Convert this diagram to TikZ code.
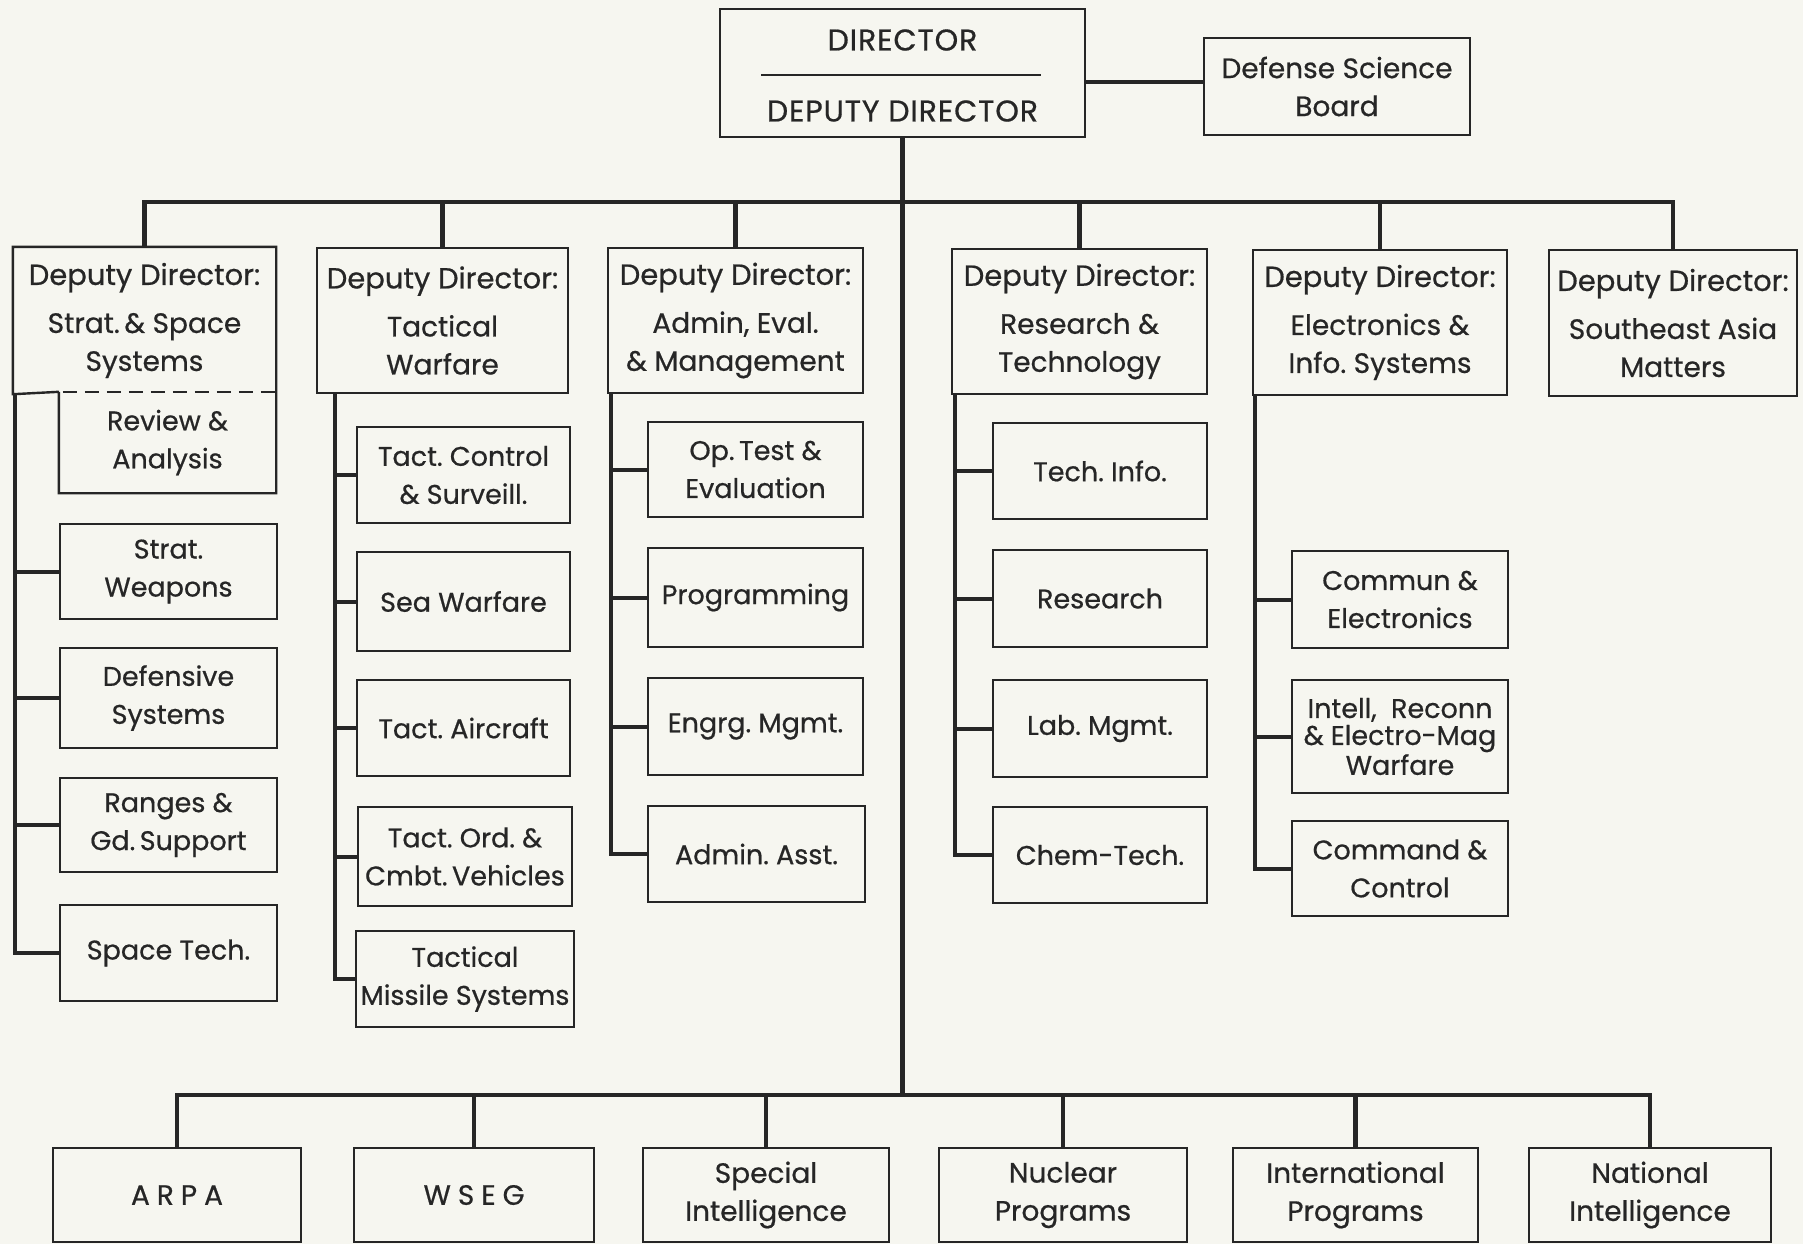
\documentclass[tikz,border=0pt]{standalone}
\usepackage{fontspec}
\setmainfont{Poppins}[FakeBold=0.6]
\definecolor{ink}{HTML}{262626}
\definecolor{paper}{HTML}{F6F6F0}
\newcommand\mkbox[7][]{\node[obox,#1,minimum width={(#5-#3)*0.5pt},minimum height={(#6-#4)*0.5pt}] (#2) at ({(#3+#5)/2},{(#4+#6)/2}) {#7};}
\newcommand\dd{{\fontsize{14.5}{19}\selectfont Deputy Director:}\\[5pt]}
\begin{document}
\begin{tikzpicture}[x=0.5pt,y=-0.5pt,
  boxline/.style={draw=ink,line width=1.2pt,line join=miter},
  obox/.style={boxline,rectangle,inner sep=0pt,align=center,text=ink,font=\fontsize{13.5}{19}\selectfont},
  top/.style={font=\fontsize{14}{19}\selectfont},
  bot/.style={font=\fontsize{14}{19}\selectfont},
  txt/.style={inner sep=0pt,text=ink},
  conn/.style={draw=ink,line width=2pt},
  bus/.style={draw=ink,line width=2.2pt}]
\fill[paper] (0,0) rectangle (1803,1244);
\useasboundingbox (0,0) rectangle (1803,1244);
% top level
\mkbox{dir}{720}{9}{1085}{137}{}
\node[txt,font=\fontsize{15}{18}\selectfont\addfontfeatures{LetterSpace=3}] (dirT) at (902.5,40) {DIRECTOR};
\node[txt,font=\fontsize{15}{18}\selectfont\addfontfeatures{LetterSpace=3}] (dirB) at (902.5,111) {DEPUTY DIRECTOR};
\draw[draw=ink,line width=1.1pt] (761,75) -- (1041,75);
\mkbox[top]{dsb}{1204}{38}{1470}{135}{Defense Science\\Board}
% deputy directors
\mkbox[top,draw=none]{dd1}{14}{248}{275}{393}{\dd Strat.\,\& Space\\Systems}
\mkbox[top]{dd2}{317}{248}{568}{393}{\dd Tactical\\Warfare}
\mkbox[top]{dd3}{608}{248}{863}{393}{\dd Admin, Eval.\\\& Management}
\mkbox[top]{dd4}{952}{249}{1207}{394}{\dd Research \&\\Technology}
\mkbox[top]{dd5}{1253}{250}{1507}{395}{\dd Electronics \&\\Info.\ Systems}
\mkbox[top]{dd6}{1549}{250}{1797}{396}{\dd Southeast Asia\\Matters}
% column 1
\mkbox[draw=none]{rev}{60}{393}{275}{492}{Review \&\\Analysis}
\draw[boxline] (rev.north west) -- (dd1.south west) -- (dd1.north west) -- (dd1.north east) -- (rev.south east) -- (rev.south west) -- (rev.north west);
\draw[boxline,dash pattern=on 7pt off 4pt] ([xshift=2pt]rev.north west) -- (rev.north east);
\mkbox{strat}{60}{524}{277}{619}{Strat.\\Weapons}
\mkbox{def}{60}{648}{277}{748}{Defensive\\Systems}
\mkbox{rng}{60}{778}{277}{872}{Ranges \&\\Gd.\,Support}
\mkbox{spc}{60}{905}{277}{1001}{Space Tech.}
% column 2
\mkbox{tcs}{357}{427}{570}{523}{Tact.\ Control\\\& Surveill.}
\mkbox{sea}{357}{552}{570}{651}{Sea Warfare}
\mkbox{tac}{357}{680}{570}{776}{Tact.\ Aircraft}
\mkbox{tord}{358}{807}{572}{906}{Tact.\ Ord.\ \&\\Cmbt.\,Vehicles}
\mkbox{tms}{356}{931}{574}{1027}{Tactical\\Missile Systems}
% column 3
\mkbox{opt}{648}{422}{863}{517}{Op.\,Test \&\\Evaluation}
\mkbox{prg}{648}{548}{863}{647}{Programming}
\mkbox{eng}{648}{678}{863}{775}{Engrg.\ Mgmt.}
\mkbox{adm}{648}{806}{865}{902}{Admin.\ Asst.}
% column 4
\mkbox{tin}{993}{423}{1207}{519}{Tech.\ Info.}
\mkbox{res}{993}{550}{1207}{647}{Research}
\mkbox{lab}{993}{680}{1207}{777}{Lab.\ Mgmt.}
\mkbox{chm}{993}{807}{1207}{903}{Chem-Tech.}
% column 5
\mkbox{com}{1292}{551}{1508}{648}{Commun \&\\Electronics}
\mkbox[font=\fontsize{13.5}{13.5}\selectfont]{itl}{1292}{680}{1508}{793}{Intell,\ \ Reconn\\\& Electro-Mag\\Warfare}
\mkbox{cmd}{1292}{821}{1508}{916}{Command \&\\Control}
% bottom row
\mkbox[font=\fontsize{14}{19}\selectfont\addfontfeatures{LetterSpace=25}]{arpa}{53}{1148}{301}{1242}{ARPA}
\mkbox[font=\fontsize{14}{19}\selectfont\addfontfeatures{LetterSpace=25}]{wseg}{354}{1148}{594}{1242}{WSEG}
\mkbox[bot]{spi}{643}{1148}{889}{1242}{Special\\Intelligence}
\mkbox[bot]{nuc}{939}{1148}{1187}{1242}{Nuclear\\Programs}
\mkbox[bot]{intp}{1233}{1148}{1478}{1242}{International\\Programs}
\mkbox[bot]{nat}{1529}{1148}{1771}{1242}{National\\Intelligence}
% connectors
\coordinate (tb) at (0,202);
\coordinate (bb) at (0,1095);
\coordinate (dsbc) at (0,82);
\draw[conn] (dir.east |- dsbc) -- (dsb.west |- dsbc);
\draw[bus] (dir.south) -- (dir.south |- bb);
\draw[bus] (dd1.north) -- (dd1.north |- tb) -- (dd6.north |- tb) -- (dd6.north);
\foreach \n in {dd2,dd3,dd4,dd5} \draw[bus] (\n.north) -- (\n.north |- tb);
\draw[bus] (arpa.north) -- (arpa.north |- bb) -- (nat.north |- bb) -- (nat.north);
\foreach \n in {wseg,spi,nuc,intp} \draw[bus] (\n.north) -- (\n.north |- bb);
\coordinate (v1) at ([xshift=1pt]dd1.south west);
\draw[conn] (v1) |- (spc.west);
\foreach \n in {strat,def,rng} \draw[conn] (v1 |- \n.west) -- (\n.west);
\coordinate (v2) at (335,393);
\draw[conn] (v2) |- (tms.west);
\foreach \n in {tcs,sea,tac,tord} \draw[conn] (v2 |- \n.west) -- (\n.west);
\coordinate (v3) at (611,393);
\draw[conn] (v3) |- (adm.west);
\foreach \n in {opt,prg,eng} \draw[conn] (v3 |- \n.west) -- (\n.west);
\coordinate (v4) at (955,394);
\draw[conn] (v4) |- (chm.west);
\foreach \n in {tin,res,lab} \draw[conn] (v4 |- \n.west) -- (\n.west);
\coordinate (v5) at (1255,395);
\draw[conn] (v5) |- (cmd.west);
\foreach \n in {com,itl} \draw[conn] (v5 |- \n.west) -- (\n.west);
\end{tikzpicture}
\end{document}
